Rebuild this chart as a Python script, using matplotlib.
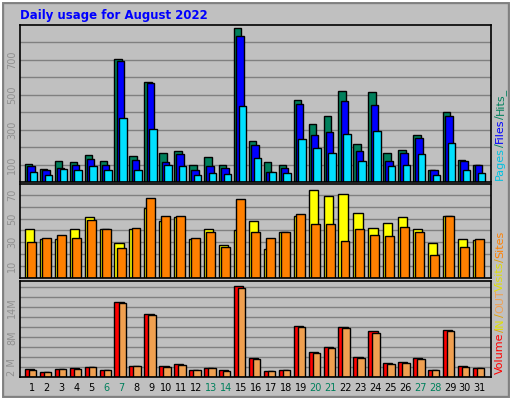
import numpy as np
import matplotlib
matplotlib.use("Agg")
from matplotlib import pyplot as plt
from matplotlib.patches import Rectangle

days = np.arange(1, 32)
weekend = [6, 7, 13, 14, 20, 21, 27, 28]

hits = [106, 77, 118, 112, 152, 118, 703, 147, 575, 164, 176, 95, 141, 95, 882, 234,
        112, 95, 471, 332, 378, 523, 216, 517, 164, 181, 268, 71, 401, 124, 100]
files = [89, 66, 80, 100, 129, 95, 691, 124, 569, 112, 158, 66, 89, 83, 836, 210,
         60, 83, 448, 268, 286, 465, 176, 442, 118, 164, 251, 66, 378, 118, 95]
pages = [60, 42, 77, 71, 89, 71, 367, 66, 303, 95, 89, 42, 54, 48, 436, 135,
         60, 54, 245, 193, 164, 274, 118, 291, 89, 100, 158, 42, 222, 71, 54]

visits = [41, 33, 33, 41, 51, 41, 29, 41, 59, 48, 51, 33, 41, 28, 40, 48,
          24, 39, 52, 74, 69, 71, 55, 42, 46, 51, 41, 29, 52, 33, 32]
sites = [30, 34, 36, 34, 49, 41, 25, 42, 67, 52, 52, 34, 39, 26, 66, 39,
         34, 39, 54, 45, 45, 31, 41, 36, 35, 43, 39, 19, 52, 26, 33]

# MB
volume = [1.7, 1.1, 1.7, 1.9, 2.1, 1.5, 15.1, 2.3, 12.6, 2.3, 2.7, 1.5, 1.9, 1.5, 18.3, 3.9,
          1.3, 1.5, 10.2, 5.1, 6.1, 10.0, 4.1, 9.2, 2.9, 3.1, 3.9, 1.5, 9.4, 2.3, 1.9]
kb_out = [1.5, 1.1, 1.7, 1.7, 2.1, 1.5, 14.9, 2.3, 12.4, 2.1, 2.5, 1.5, 1.9, 1.3, 17.9, 3.7,
          1.3, 1.5, 10.0, 4.9, 5.9, 9.8, 3.9, 8.8, 2.7, 2.9, 3.7, 1.5, 9.2, 2.1, 1.9]

W, H = 512, 400
fig = plt.figure(figsize=(W / 100, H / 100), dpi=100)
fig.patch.set_facecolor("#c0c0c0")
fig.add_artist(Rectangle((0, 0), 1, 1, transform=fig.transFigure, fill=False,
                         edgecolor="#808080", lw=6))
fig.add_artist(Rectangle((0.002, 0.002), 0.996, 0.996, transform=fig.transFigure, fill=False,
                         edgecolor="white", lw=1.5))

def px_axes(x0, y0, x1, y1):
    ax = fig.add_axes([x0 / W, 1 - y1 / H, (x1 - x0) / W, (y1 - y0) / H])
    ax.set_facecolor("#c0c0c0")
    ax.set_xlim(0.2, 31.75)
    ax.set_xticks([])
    for s in ax.spines.values():
        s.set_color("black")
        s.set_linewidth(1.2)
    ax.tick_params(axis="y", length=0, labelsize=7, labelcolor="#909090", pad=2)
    ax.grid(True, axis="y", which="both", color="#808080", lw=1)
    ax.set_axisbelow(True)
    return ax

fig.text(20 / W, 1 - 15 / H, "Daily usage for August 2022", color="#0000ff",
         fontsize=8.5, fontweight="bold", va="center")

# top panel
ax1 = px_axes(20, 25, 491, 182)
kw = dict(edgecolor="black", linewidth=1, align="edge")
ax1.bar(days - 0.47, hits, 0.5, color="#00805c", **kw)
ax1.bar(days - 0.32, files, 0.5, color="#0000ff", **kw)
ax1.bar(days - 0.15, pages, 0.5, color="#00e0ff", **kw)
ax1.set_ylim(0, 900)
ax1.set_yticks([100, 300, 500, 700])
ax1.set_yticks(np.arange(100, 900, 100), minor=True)
ax1.tick_params(axis="y", which="minor", length=0)
for t in ax1.get_yticklabels():
    t.set_rotation(90)
    t.set_va("center")

# middle panel
ax2 = px_axes(20, 184, 491, 278)
ax2.bar(days - 0.47, visits, 0.62, color="#ffff00", **kw)
ax2.bar(days - 0.33, sites, 0.6, color="#ff8000", **kw)
ax2.set_ylim(0, 79)
ax2.set_yticks([10, 30, 50, 70])
ax2.set_yticks(np.arange(10, 80, 10), minor=True)
ax2.tick_params(axis="y", which="minor", length=0)
for t in ax2.get_yticklabels():
    t.set_rotation(90)
    t.set_va("center")

# bottom panel
ax3 = px_axes(20, 281, 491, 377)
ax3.bar(days - 0.47, volume, 0.62, color="#ff0000", **kw)
ax3.bar(days - 0.2, kb_out, 0.5, color="#f0a050", **kw)
ax3.set_ylim(0, 19.3)
ax3.set_yticks([2, 8, 14], ["2 M", "8M", "14M"])
ax3.set_yticks(np.arange(2, 19, 2), minor=True)
ax3.tick_params(axis="y", which="minor", length=0)
for t in ax3.get_yticklabels():
    t.set_rotation(90)
    t.set_va("center")
ax3.set_xticks(days)
ax3.set_xticklabels([str(d) for d in days], fontsize=7)
ax3.tick_params(axis="x", length=0, pad=4)
for d, t in zip(days, ax3.get_xticklabels()):
    t.set_color("#00805c" if d in weekend else "black")

# right side labels, stacked using measured extents
renderer = fig.canvas.get_renderer()

def vlabel(parts, y_bottom):
    y = H - y_bottom  # display pixels from bottom
    for txt, col in parts:
        t = fig.text(500 / W, y / H, txt, color=col, fontsize=8, rotation=90,
                     ha="center", va="bottom")
        bb = t.get_window_extent(renderer)
        y += bb.height

vlabel([("Pages", "#00c0e0"), ("/", "#00805c"), ("Files", "#0000ff"),
        ("/", "#00805c"), ("Hits_", "#00805c")], 180)
vlabel([("Visits", "#e0e000"), ("/", "#e0a000"), ("Sites", "#ff8000")], 291)
vlabel([("Volume", "#ff0000"), ("/", "#e0a000"), ("IN", "#e0e000"),
        ("/", "#e0a000"), ("OUT", "#f0a050")], 374)

plt.savefig("out.png", dpi=100, facecolor=fig.get_facecolor())
